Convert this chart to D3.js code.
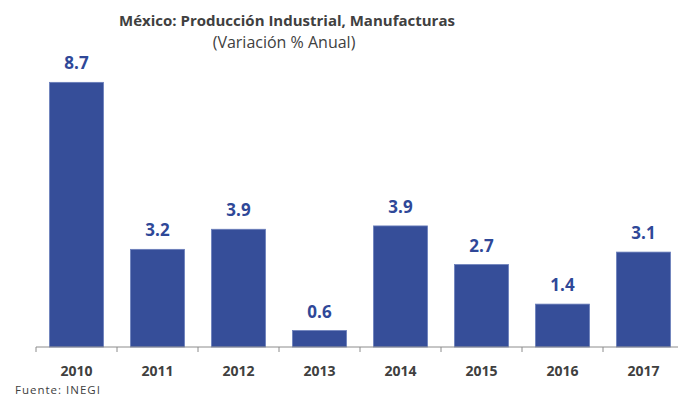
<!DOCTYPE html>
<html lang="es">
<head>
  <meta charset="UTF-8">
  <title>México: Producción Industrial, Manufacturas</title>
  <script src="https://d3js.org/d3.v7.min.js"></script>
  <style>
    body { margin: 0; background: #fff; }
    svg { display: block; font-family: "Open Sans", "Liberation Sans", sans-serif; }
  </style>
</head>
<body>
<svg id="chart" width="678" height="398"></svg>
<script>
// datos
const years = ["2010", "2011", "2012", "2013", "2014", "2015", "2016", "2017"];
const values = [8.7, 3.21, 3.87, 0.54, 3.98, 2.71, 1.41, 3.12];
const labels = ["8.7", "3.2", "3.9", "0.6", "3.9", "2.7", "1.4", "3.1"];

const svg = d3.select("#chart");
const base = 347;

const x = d3.scaleBand().domain(years).range([36, 684])
  .paddingInner(0.333).paddingOuter(0.1665);
const y = d3.scaleLinear().domain([0, 9]).range([base, base - 9 * 30.42]);

// titulo
svg.append("text")
  .attr("x", 287).attr("y", 26)
  .attr("text-anchor", "middle")
  .style("font-size", "15px").style("font-weight", "bold")
  .attr("fill", "#404040")
  .text("México: Producción Industrial, Manufacturas");
svg.append("text")
  .attr("x", 284).attr("y", 48)
  .attr("text-anchor", "middle")
  .style("font-size", "16px")
  .attr("fill", "#404040")
  .text("(Variación % Anual)");

// barras
svg.selectAll("rect.bar")
  .data(values)
  .join("rect")
  .attr("class", "bar")
  .attr("x", (_, i) => x(years[i]))
  .attr("width", x.bandwidth())
  .attr("y", d => y(d))
  .attr("height", d => base - y(d))
  .attr("fill", "#364e99")
  .attr("stroke", "#6b7fbb")
  .attr("stroke-width", 0.8);

// etiquetas de valor
svg.selectAll("text.val")
  .data(values)
  .join("text")
  .attr("class", "val")
  .attr("x", (_, i) => x(years[i]) + x.bandwidth() / 2)
  .attr("y", d => y(d) - 13)
  .attr("text-anchor", "middle")
  .style("font-size", "17px").style("font-weight", "bold")
  .attr("fill", "#2f4898")
  .text((_, i) => labels[i]);

// eje x
svg.append("line")
  .attr("x1", 36).attr("x2", 678)
  .attr("y1", base).attr("y2", base)
  .attr("stroke", "#8c8c8c").attr("stroke-width", 1);

const tickPos = years.map(yr => x(yr) - (x.step() - x.bandwidth()) / 2);
svg.selectAll("line.tick")
  .data(tickPos)
  .join("line")
  .attr("class", "tick")
  .attr("x1", d => d).attr("x2", d => d)
  .attr("y1", base).attr("y2", base + 5)
  .attr("stroke", "#8c8c8c");

svg.selectAll("text.cat")
  .data(years)
  .join("text")
  .attr("class", "cat")
  .attr("x", d => x(d) + x.bandwidth() / 2)
  .attr("y", 376)
  .attr("text-anchor", "middle")
  .style("font-size", "14px").style("font-weight", "bold")
  .attr("fill", "#404040")
  .text(d => d);

svg.append("text")
  .attr("x", 15).attr("y", 394)
  .style("font-size", "11.5px")
  .style("letter-spacing", "1px")
  .attr("fill", "#404040")
  .text("Fuente: INEGI");
</script>
</body>
</html>
